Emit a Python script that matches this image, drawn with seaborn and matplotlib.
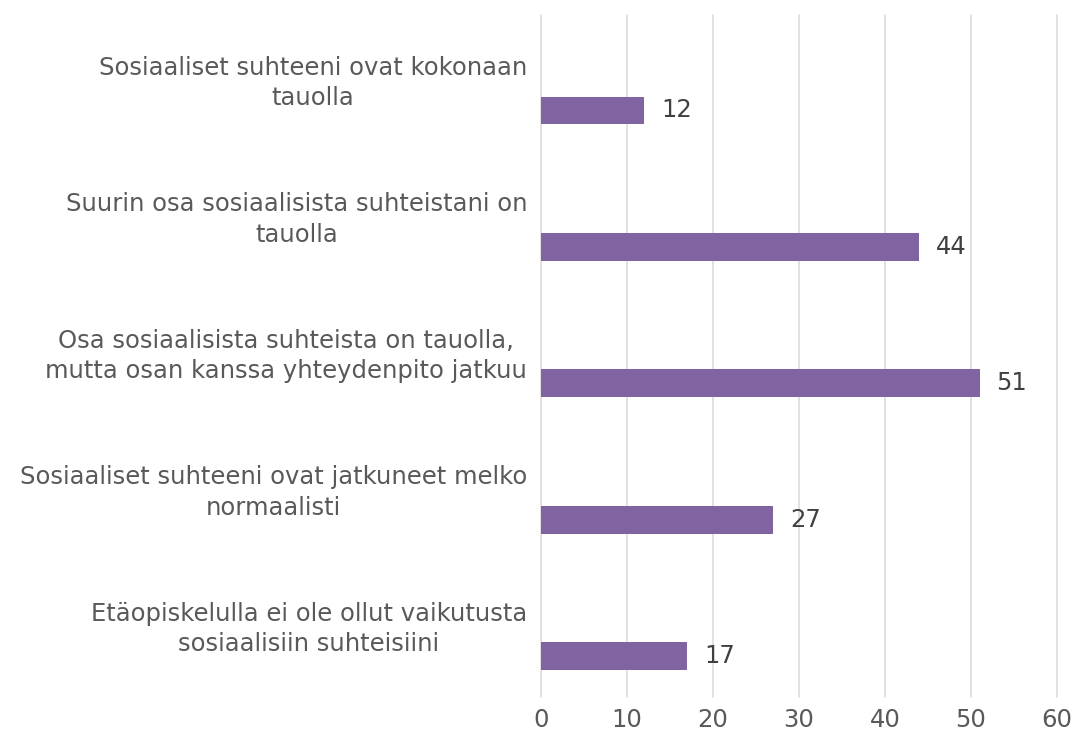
import matplotlib
matplotlib.use("Agg")
import matplotlib.pyplot as plt
import numpy as np
import pandas as pd
import seaborn as sns

# data
categories = [
    "Sosiaaliset suhteeni ovat kokonaan\ntauolla",
    "Suurin osa sosiaalisista suhteistani on\ntauolla",
    "Osa sosiaalisista suhteista on tauolla,\nmutta osan kanssa yhteydenpito jatkuu",
    "Sosiaaliset suhteeni ovat jatkuneet melko\nnormaalisti",
    "Etäopiskelulla ei ole ollut vaikutusta\nsosiaalisiin suhteisiini",
]
values = [12, 44, 51, 27, 17]
xticks = [0, 10, 20, 30, 40, 50, 60]

df = pd.DataFrame({"label": categories, "value": values})

sns.set_style("white")
plt.rcParams["font.family"] = ["DejaVu Sans"]

fig = plt.figure(figsize=(10.74, 7.4), dpi=100)
ax = fig.add_axes([0.5037, 0.0581, 0.4805, 0.9216])

bar_h = 0.205
sns.barplot(data=df, y="label", x="value", orient="h", color="#8064A2",
            width=bar_h, ax=ax, saturation=1)

# bars sit in the lower part of each category slot (empty second series in the original)
for p in ax.patches:
    p.set_y(p.get_y() + 0.2)
    p.set_linewidth(0)

ax.bar_label(ax.containers[0], labels=[str(v) for v in values], padding=12,
             fontsize=17.5, color="#404040")

ax.set_xlim(0, 60)
ax.set_ylim(4.5, -0.5)
ax.set_xticks(xticks)
ax.set_xlabel("")
ax.set_ylabel("")
ax.grid(axis="x", color="#D9D9D9", linewidth=1.1)
ax.grid(axis="y", visible=False)
ax.set_axisbelow(True)
for s in ax.spines.values():
    s.set_visible(False)
for gl in ax.get_xgridlines():
    gl.set_clip_on(False)

ax.tick_params(axis="both", length=0, labelsize=17.5, colors="#595959")
ax.tick_params(axis="x", pad=8)
ax.tick_params(axis="y", pad=10)
for t in ax.get_yticklabels():
    t.set_multialignment("center")
    t.set_verticalalignment("center")
    t.set_linespacing(1.34)

fig.savefig("out.png", dpi=100)
